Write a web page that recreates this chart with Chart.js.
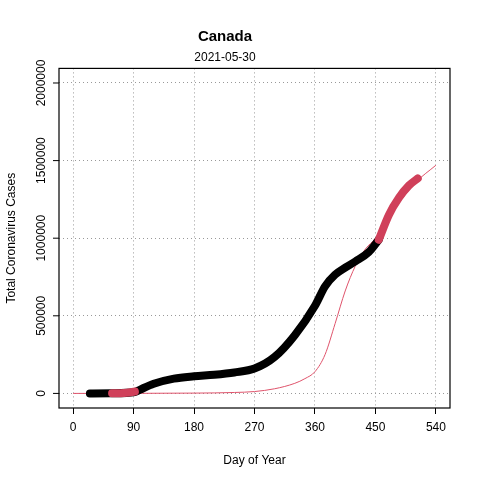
<!DOCTYPE html>
<html>
<head>
<meta charset="utf-8">
<script src="https://cdn.jsdelivr.net/npm/chart.js@4"></script>
<style>
  html, body { margin: 0; padding: 0; background: #fff; }
  #wrap { width: 480px; height: 480px; }
</style>
</head>
<body>
<div id="wrap"><canvas id="myChart" width="480" height="480"></canvas></div>
<script>
// observed cumulative cases (black), days 25..455
var obsDays = [25, 58, 92, 100, 120, 150, 180, 210, 240, 270, 300, 330, 360, 375, 390, 405, 420, 440, 455];
var obsCases = [0, 1000, 9000, 25000, 62000, 95000, 110000, 120000, 135000, 160000, 235000, 375000, 565000, 690000, 765000, 810000, 850000, 910000, 990000];
// early points (red)
var earlyDays = [58, 70, 80, 92];
var earlyCases = [1000, 1500, 4000, 12000];
// recent points (red)
var recentDays = [455, 470, 485, 500, 513];
var recentCases = [990000, 1150000, 1260000, 1340000, 1385000];
// fitted curve (thin red)
var fitDays = [0, 180, 240, 270, 300, 330, 345, 360, 375, 390, 405, 420, 435, 450, 465, 480, 510, 540];
var fitCases = [0, 2000, 6000, 12000, 30000, 65000, 95000, 140000, 250000, 450000, 660000, 820000, 930000, 1000000, 1110000, 1200000, 1360000, 1470000];
var xTicks = [0, 90, 180, 270, 360, 450, 540];
var yTicks = [0, 500000, 1000000, 1500000, 2000000];

function pts(xs, ys) {
    return xs.map(function (x, i) { return { x: x, y: ys[i] }; });
}

var font = "'Liberation Sans', Arial, sans-serif";

var boxPlugin = {
    id: 'box',
    afterDraw: function (chart) {
        var a = chart.chartArea, c = chart.ctx, ys = chart.scales.y;
        c.save();
        c.strokeStyle = '#000';
        c.lineWidth = 1.2;
        c.strokeRect(a.left, a.top, a.right - a.left, a.bottom - a.top);
        // y tick marks and rotated labels, R style
        c.font = '12px ' + font;
        c.fillStyle = '#000';
        c.textAlign = 'center';
        c.textBaseline = 'middle';
        c.lineWidth = 1;
        yTicks.forEach(function (v) {
            var py = ys.getPixelForValue(v);
            c.beginPath();
            c.moveTo(a.left - 6, py);
            c.lineTo(a.left, py);
            c.stroke();
            c.save();
            c.translate(a.left - 17, py);
            c.rotate(-Math.PI / 2);
            c.fillText(String(v), 0, 0);
            c.restore();
        });
        c.restore();
    }
};

Chart.defaults.font.family = font;
Chart.defaults.color = '#000';

var ctx = document.getElementById("myChart").getContext('2d');
var myChart = new Chart(ctx, {
    type: 'line',
    data: {
        datasets: [
            { data: pts(fitDays, fitCases), borderColor: '#df536b', borderWidth: 1, pointRadius: 0, cubicInterpolationMode: 'monotone', order: 3 },
            { data: pts(obsDays, obsCases), borderColor: '#000', borderWidth: 8, pointRadius: 0, cubicInterpolationMode: 'monotone', borderCapStyle: 'round', order: 2 },
            { data: pts(earlyDays, earlyCases), borderColor: '#d0405a', borderWidth: 8, pointRadius: 0, cubicInterpolationMode: 'monotone', borderCapStyle: 'round', order: 1 },
            { data: pts(recentDays, recentCases), borderColor: '#d0405a', borderWidth: 8, pointRadius: 0, cubicInterpolationMode: 'monotone', borderCapStyle: 'round', order: 1 }
        ]
    },
    options: {
        responsive: false,
        animation: false,
        layout: { padding: { top: 0, right: 30, bottom: 0, left: 0 } },
        plugins: {
            legend: { display: false },
            tooltip: { enabled: false },
            title: { display: true, text: 'Canada', font: { size: 15, weight: 'bold' }, padding: { top: 28, bottom: 4 } },
            subtitle: { display: true, text: '2021-05-30', font: { size: 12 }, padding: { top: 0, bottom: 4 } }
        },
        scales: {
            x: {
                type: 'linear', min: -21, max: 561,
                afterBuildTicks: function (s) { s.ticks = xTicks.map(function (v) { return { value: v }; }); },
                afterFit: function (s) { s.height = 72; },
                grid: { color: '#999', tickColor: '#000', tickLength: 6, tickBorderDash: [] },
                border: { display: false, dash: [1, 3] },
                ticks: { font: { size: 12 }, padding: 6, maxRotation: 0 },
                title: { display: true, text: 'Day of Year', font: { size: 12 }, padding: { top: 14, bottom: 12 } }
            },
            y: {
                type: 'linear', min: -94000, max: 2094000,
                afterBuildTicks: function (s) { s.ticks = yTicks.map(function (v) { return { value: v }; }); },
                afterFit: function (s) { s.width = 59; },
                grid: { color: '#999', drawTicks: false },
                border: { display: false, dash: [1, 3] },
                ticks: { display: false },
                title: { display: true, text: 'Total Coronavirus Cases', font: { size: 12 }, padding: { bottom: 4 } }
            }
        }
    },
    plugins: [boxPlugin]
});
</script>
</body>
</html>
